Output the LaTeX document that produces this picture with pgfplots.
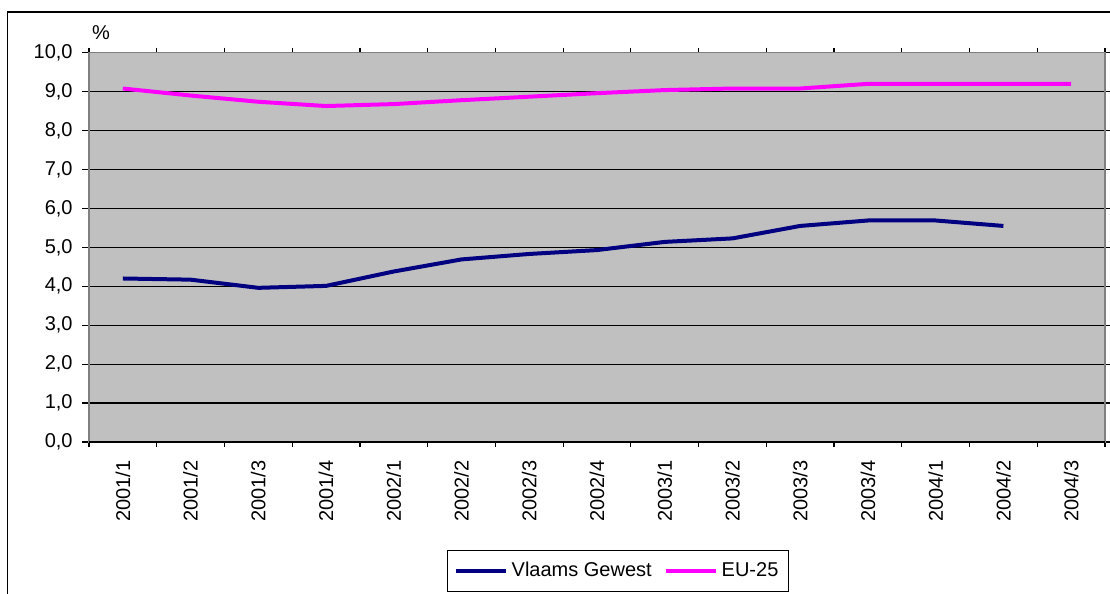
\documentclass[border=0pt]{standalone}
\usepackage{pgfplots}
\pgfplotsset{compat=1.18}
\usepackage{fontspec}
\setmainfont{Liberation Sans}
\definecolor{vlaams}{HTML}{000080}
\definecolor{eu}{HTML}{FF00FF}
\definecolor{plotbg}{HTML}{C0C0C0}
\definecolor{bord}{HTML}{808080}
\begin{document}
\begin{tikzpicture}
\useasboundingbox (0,0) rectangle (555pt,297pt);
\draw[black, line width=0.8pt] (3.65pt,-2pt) -- (3.65pt,290.85pt) -- (560pt,290.85pt);
\begin{axis}[
  at={(44.5pt,76pt)}, anchor=south west,
  scale only axis, width=508pt, height=194.65pt,
  xmin=-0.5, xmax=14.5, ymin=0, ymax=10,
  axis background/.style={fill=plotbg},
  axis line style={bord, line width=0.8pt},
  xtick={0,...,14},
  xticklabels={2001/1,2001/2,2001/3,2001/4,2002/1,2002/2,2002/3,2002/4,2003/1,2003/2,2003/3,2003/4,2004/1,2004/2,2004/3},
  minor xtick={-0.5,0.5,...,14.5},
  major x tick style={draw=none},
  ytick={0,1,...,10},
  ymajorgrids, major grid style={black, line width=0.6pt},
  tick align=outside,
  major tick length=3.5pt, minor tick length=2.5pt,
  tick style={black, line width=0.6pt},
  x tick label style={rotate=90, anchor=east, inner sep=0pt, font=\fontsize{10}{12}\selectfont},
  xticklabel shift=5.5pt,
  y tick label style={anchor=east, inner sep=0pt, font=\fontsize{10}{12}\selectfont},
  yticklabel shift=4.5pt,
  /pgf/number format/.cd, fixed, fixed zerofill, precision=1, use comma, assume math mode=true,
  /pgfplots/.cd,
  legend style={at={(0.5207,-0.3314)}, anchor=center, draw=black, line width=0.6pt,
    font=\fontsize{10}{12}\selectfont, inner xsep=3pt, inner ysep=4pt,
    /tikz/every even column/.append style={column sep=4pt}},
  legend columns=2,
  legend image code/.code={\draw[#1, line width=2pt] (0pt,0pt) -- (25pt,0pt);},
  clip=false,
]
\addplot[vlaams, line width=2pt] coordinates {
(0,4.20) (1,4.17) (2,3.96) (3,4.01) (4,4.38) (5,4.69) (6,4.83) (7,4.93)
(8,5.14) (9,5.23) (10,5.55) (11,5.69) (12,5.69) (13,5.55)};
\addlegendentry{Vlaams Gewest}
\addplot[eu, line width=2pt] coordinates {
(0,9.08) (1,8.90) (2,8.74) (3,8.63) (4,8.68) (5,8.78) (6,8.87) (7,8.96)
(8,9.04) (9,9.08) (10,9.08) (11,9.20) (12,9.20) (13,9.20) (14,9.20)};
\addlegendentry{EU-25}
\draw[black, line width=0.8pt] (axis cs:-0.5,0) -- (axis cs:14.5,0);
\end{axis}
\node at (50.5pt,280.75pt) {\fontsize{10}{12}\selectfont\%};
\end{tikzpicture}
\end{document}
